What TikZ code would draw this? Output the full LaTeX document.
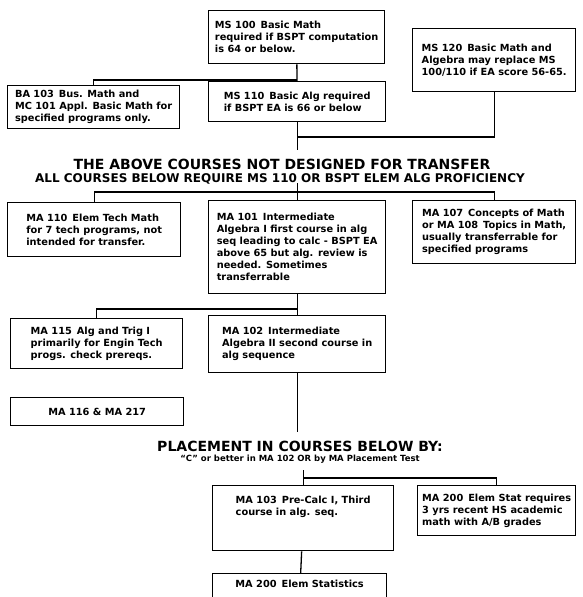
\documentclass[tikz,border=0pt]{standalone}
\usepackage{fontspec}
\newfontfamily\chartfont{DejaVu Sans}
\usetikzlibrary{calc}
\tikzset{
	course/.style={draw, line width=1.3pt, anchor=north west, align=left, inner xsep=4pt, inner ysep=0pt, font=\chartfont\bfseries\fontsize{9.8}{12}\selectfont},
	link/.style={line width=1.3pt},
	heading/.style={font=\chartfont\bfseries\fontsize{14}{16}\selectfont, inner sep=0pt},
	subheading/.style={font=\chartfont\bfseries\fontsize{12}{14}\selectfont, inner sep=0pt}
}

\begin{document}
\begin{tikzpicture}[x=1pt, y=-1pt]
		%%%%% START %%%%%
		\useasboundingbox[fill=white] (0, 0) rectangle (582, 597);
		\clip (0, 0) rectangle (582, 597);
		
		\node[course, minimum width=176, minimum height=53] (ms100) at (208, 10) {MS 100\enspace Basic Math\\required if BSPT computation\\is 64 or below.};
		\node[course, minimum width=163, minimum height=63] (ms120) at (412, 28) {MS 120\enspace Basic Math and\\Algebra may replace MS\\100/110 if EA score 56-65.};
		\node[course, minimum width=172, minimum height=43] (ba103) at (7, 85) {BA 103\enspace Bus. Math and\\MC 101 Appl. Basic Math for\\specified programs only.};
		\node[course, minimum width=177, minimum height=40] (ms110) at (208, 81) {MS 110\enspace Basic Alg required\\if BSPT EA is 66 or below};
		
		\draw[link] (ms100) -- (ms110);
		\draw[link] (ba103.north) |- (ms100.south |- 0,80);
		\coordinate (e1) at (ms110.south |- 0,150);
		\draw[link] (ms110.south) -- (e1);
		\draw[link] (ms110.south |- 0,137) -| (ms120.south);
		
		\node[heading] (title1) at (282, 164) {THE ABOVE COURSES NOT DESIGNED FOR TRANSFER};
		\node[subheading] (sub1) at (280, 179) {ALL COURSES BELOW REQUIRE MS 110 OR BSPT ELEM ALG PROFICIENCY};
		
		\node[course, minimum width=173, minimum height=54] (ma110) at (7, 202) {MA 110\enspace Elem Tech Math\\for 7 tech programs, not\\intended for transfer.};
		\node[course, minimum width=177, minimum height=93] (ma101) at (208, 200) {MA 101\enspace Intermediate\\Algebra I first course in alg\\seq leading to calc - BSPT EA\\above 65 but alg. review is\\needed. Sometimes\\transferrable};
		\node[course, minimum width=163, minimum height=63] (ma107) at (412, 200) {MA 107\enspace Concepts of Math\\or MA 108\enspace Topics in Math,\\usually transferrable for\\specified programs};
		
		\coordinate (j3) at (ma101.north |- 0,192);
		\draw[link] (ma110.north) |- (j3) -| (ma107.north);
		\draw[link] (ma101.north) -- ++(0, -17);
		
		\node[course, minimum width=172, minimum height=50] (ma115) at (10, 318) {MA 115\enspace Alg and Trig I\\primarily for Engin Tech\\progs. check prereqs.};
		\node[course, minimum width=173, minimum height=28] (ma116) at (10, 397) {MA 116 \& MA 217};
		\node[course, minimum width=177, minimum height=57] (ma102) at (208, 315) {MA 102\enspace Intermediate\\Algebra II second course in\\alg sequence};
		
		\draw[link] (ma101) -- (ma102);
		\draw[link] (ma115.north) |- (ma101.south |- 0,309);
		\coordinate (e2) at (ma102.south |- 0,432);
		\draw[link] (ma102.south) -- (e2);
		
		\node[heading] (title2) at (300, 446) {PLACEMENT IN COURSES BELOW BY:};
		\node[font=\chartfont\bfseries\fontsize{8.5}{10}\selectfont, inner sep=0pt] (sub2) at (300, 459) {“C” or better in MA 102 OR by MA Placement Test};
		
		\node[course, minimum width=181, minimum height=65] (ma103) at (212, 485) {MA 103\enspace Pre-Calc I, Third\\course in alg. seq.\\~\\~};
		\node[course, minimum width=158, minimum height=50] (ma200r) at (417, 485) {MA 200\enspace Elem Stat requires\\3 yrs recent HS academic\\math with A/B grades};
		\node[course, minimum width=174, minimum height=44] (ma200) at (212, 573) {MA 200\enspace Elem Statistics\\~\\~};
		
		\draw[link] (ma103.north) -- ++(0, -15);
		\draw[link] (ma103.north |- 0,478) -| (ma200r.north);
		\draw[link] (ma103) -- (ma200);
		
		%%%%% END %%%%%
	\end{tikzpicture}
\end{document}
